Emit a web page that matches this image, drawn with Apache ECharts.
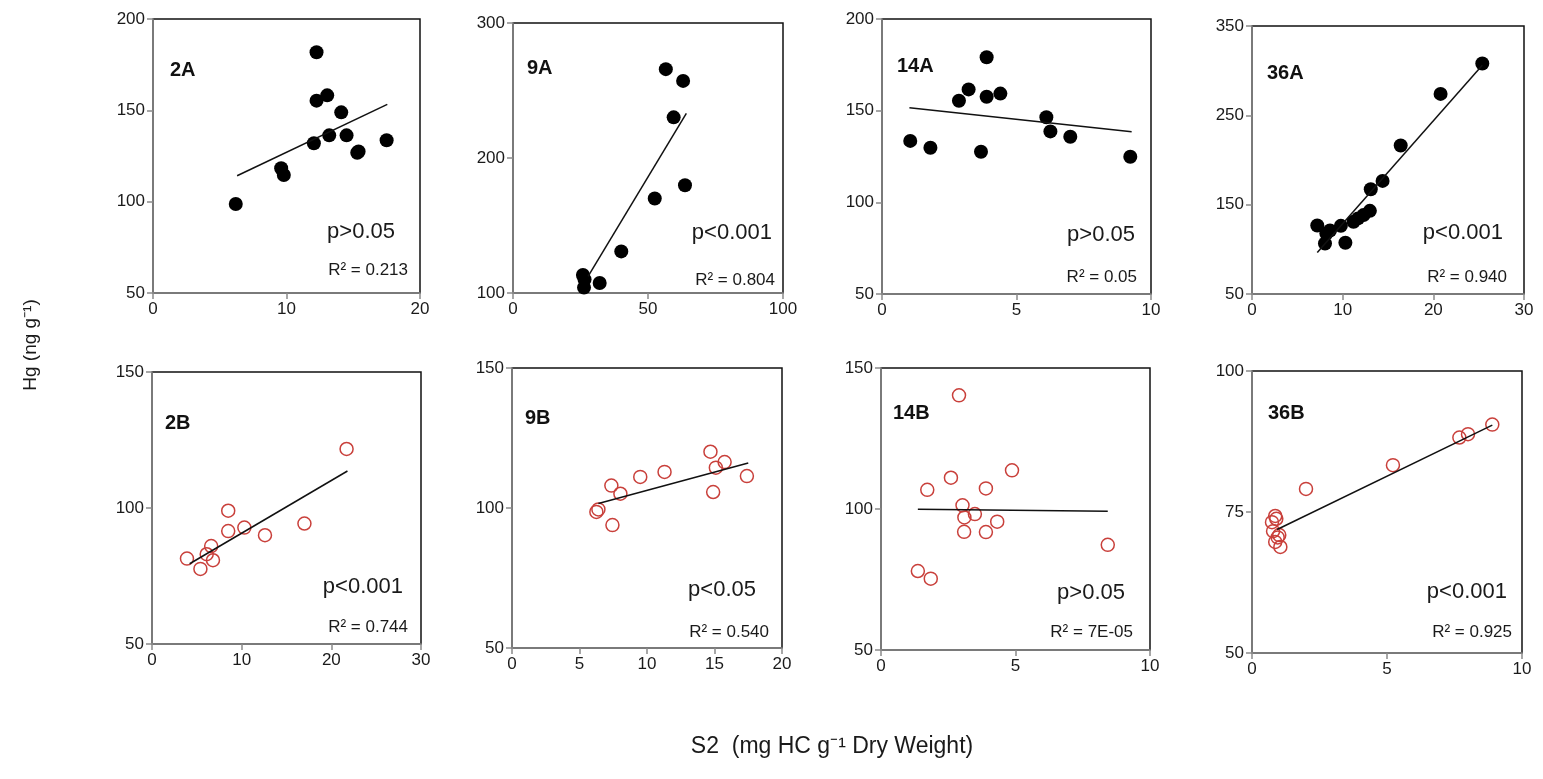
<!DOCTYPE html>
<html>
<head>
<meta charset="utf-8">
<script src="https://cdn.jsdelivr.net/npm/echarts@6/dist/echarts.min.js"></script>
<style>
  html, body { margin: 0; padding: 0; background: #fff; }
  #chart { width: 1543px; height: 779px; }
</style>
</head>
<body>
<div id="chart"></div>
<script>
// ---- data (S2 on x, Hg on y) ----
const x2A = [6.2, 9.6, 9.8, 12.05, 12.25, 12.25, 13.05, 13.2, 14.1, 14.5, 15.3, 15.4, 17.5]
const y2A = [98.7, 118.3, 114.6, 132, 181.8, 155.3, 158.2, 136.3, 148.9, 136.3, 126.8, 127.5, 133.6]
const fit2A = [6.3, 114.2, 17.55, 153.3]

const x9A = [56.6, 63, 59.5, 63.7, 52.5, 40.1, 32.1, 25.9, 26.3, 26.5]
const y9A = [265.8, 257.1, 230.1, 179.8, 170, 130.8, 107.4, 113.3, 104, 110]
const fit9A = [27.8, 112.3, 64.2, 233]

const x14A = [1.05, 1.8, 2.86, 3.22, 3.89, 3.89, 4.4, 3.68, 6.11, 6.26, 7.0, 9.23]
const y14A = [133.5, 129.8, 155.4, 161.6, 179.1, 157.6, 159.3, 127.6, 146.4, 138.7, 135.8, 124.9]
const fit14A = [1.02, 151.6, 9.28, 138.5]

const x36A = [25.4, 20.8, 16.4, 14.4, 13.1, 13.0, 12.3, 11.7, 11.2, 9.8, 10.3, 7.2, 8.2, 8.05, 8.6]
const y36A = [308, 274, 216.2, 176.6, 167.3, 143.1, 138.3, 134.6, 130.8, 126.3, 107.3, 126.7, 117.8, 106.6, 121]
const fit36A = [7.2, 96.5, 25.4, 306]

const x2B = [21.7, 8.5, 8.5, 10.3, 12.6, 17.0, 6.6, 6.1, 6.8, 3.9, 5.4]
const y2B = [121.7, 99, 91.5, 92.8, 90, 94.3, 86, 83, 80.8, 81.4, 77.6]
const fit2B = [4.2, 79.5, 21.8, 113.6]

const x9B = [6.25, 6.4, 7.36, 8.03, 7.44, 9.5, 11.3, 14.7, 15.1, 15.75, 14.9, 17.4]
const y9B = [98.6, 99.5, 108, 105.1, 93.9, 111.1, 112.9, 120.1, 114.4, 116.4, 105.7, 111.4]
const fit9B = [6.4, 101.6, 17.5, 116.1]

const x14B = [2.9, 4.87, 2.6, 1.72, 3.9, 3.03, 3.1, 3.49, 3.09, 3.9, 4.32, 8.43, 1.37, 1.85]
const y14B = [140.3, 113.7, 111.1, 106.8, 107.3, 101.3, 97, 98.2, 91.9, 91.8, 95.5, 87.3, 78, 75.3]
const fit14B = [1.37, 99.9, 8.43, 99.2]

const x36B = [8.9, 8.0, 7.68, 5.22, 2.0, 0.86, 0.74, 0.78, 1.01, 0.86, 1.05, 0.9, 0.95]
const y36B = [90.5, 88.8, 88.2, 83.3, 79.1, 74.3, 73.2, 71.6, 70.9, 69.7, 68.8, 73.8, 70.5]
const fit36B = [0.93, 71.9, 8.9, 90.4]

// tick labels
const xTicks = {
  '2A': [0, 10, 20], '9A': [0, 50, 100], '14A': [0, 5, 10], '36A': [0, 10, 20, 30],
  '2B': [0, 10, 20, 30], '9B': [0, 5, 10, 15, 20], '14B': [0, 5, 10], '36B': [0, 5, 10],
}
const yTicks = {
  '2A': [50, 100, 150, 200], '9A': [100, 200, 300], '14A': [50, 100, 150, 200], '36A': [50, 150, 250, 350],
  '2B': [50, 100, 150], '9B': [50, 100, 150], '14B': [50, 100, 150], '36B': [50, 75, 100],
}
const pText = ['p>0.05', 'p<0.001', 'p>0.05', 'p<0.001', 'p<0.001', 'p<0.05', 'p>0.05', 'p<0.001']
const r2Text = ['R² = 0.213', 'R² = 0.804', 'R² = 0.05', 'R² = 0.940', 'R² = 0.744', 'R² = 0.540', 'R² = 7E-05', 'R² = 0.925']

const names = ['2A', '9A', '14A', '36A', '2B', '9B', '14B', '36B']
const xs = [x2A, x9A, x14A, x36A, x2B, x9B, x14B, x36B]
const ys = [y2A, y9A, y14A, y36A, y2B, y9B, y14B, y36B]
const fits = [fit2A, fit9A, fit14A, fit36A, fit2B, fit9B, fit14B, fit36B]

// plot boxes [left, top, right, bottom] in px, and text anchors
const boxes = [
  [153, 19, 420, 293], [513, 23, 783, 293], [882, 19, 1151, 294], [1252, 26, 1524, 294],
  [152, 372, 421, 644], [512, 368, 782, 648], [881, 368, 1150, 650], [1252, 371, 1522, 653],
]
// [titleX, titleY, pRight, pY, r2Right, r2Y]
const textPos = [
  [170, 70, 395, 232, 408, 270], [527, 68, 772, 233, 775, 280], [897, 66, 1135, 235, 1137, 277], [1267, 73, 1503, 233, 1507, 277],
  [165, 423, 403, 587, 408, 627], [525, 418, 756, 590, 769, 632], [893, 413, 1125, 593, 1133, 632], [1268, 413, 1507, 592, 1512, 632],
]

const FONT = "'Liberation Sans', Arial, sans-serif"
const chart = echarts.init(document.getElementById('chart'))

const grid = [], xAxis = [], yAxis = [], series = [], graphic = []

names.forEach((name, i) => {
  const b = boxes[i]
  grid.push({
    left: b[0], top: b[1], width: b[2] - b[0], height: b[3] - b[1],
    show: true, borderColor: '#111', borderWidth: 1.5, backgroundColor: '#fff',
  })
  const xt = xTicks[name], yt = yTicks[name]
  const axisCommon = {
    gridIndex: i,
    splitLine: { show: false },
    axisLine: { show: true, onZero: false, lineStyle: { color: '#8a8a8a', width: 1.5 } },
    axisTick: { show: true, inside: false, length: 6, lineStyle: { color: '#8a8a8a', width: 1.5 } },
    axisLabel: { color: '#1a1a1a', fontSize: 17, fontFamily: FONT, margin: 8 },
  }
  xAxis.push(Object.assign({}, axisCommon, {
    type: 'value', min: xt[0], max: xt[xt.length - 1], interval: xt[1] - xt[0],
  }))
  yAxis.push(Object.assign({}, axisCommon, {
    type: 'value', min: yt[0], max: yt[yt.length - 1], interval: yt[1] - yt[0],
  }))

  const isA = name.endsWith('A')
  const pts = xs[i].map((x, k) => [x, ys[i][k]])
  series.push({
    type: 'scatter', xAxisIndex: i, yAxisIndex: i, data: pts,
    symbol: 'circle',
    symbolSize: isA ? 14 : 13,
    itemStyle: isA
      ? { color: '#000', opacity: 1 }
      : { color: 'rgba(0,0,0,0)', borderColor: '#c9403b', borderWidth: 1.5, opacity: 1 },
    z: 2,
  })
  const f = fits[i]
  series.push({
    type: 'line', xAxisIndex: i, yAxisIndex: i,
    data: [[f[0], f[1]], [f[2], f[3]]],
    symbol: 'none', lineStyle: { color: '#111', width: 1.5 }, z: 3,
  })

  const t = textPos[i]
  graphic.push(
    { type: 'text', x: t[0], y: t[1], style: { text: name, font: 'bold 20px ' + FONT, fill: '#111', verticalAlign: 'middle' } },
    { type: 'text', x: t[2], y: t[3], style: { text: pText[i], font: '22px ' + FONT, fill: '#1a1a1a', align: 'right', verticalAlign: 'middle' } },
    { type: 'text', x: t[4], y: t[5], style: { text: r2Text[i], font: '17px ' + FONT, fill: '#1a1a1a', align: 'right', verticalAlign: 'middle' } },
  )
})

// shared axis titles
graphic.push(
  { type: 'text', x: 31, y: 345, rotation: Math.PI / 2,
    style: { text: 'Hg (ng g⁻¹)', font: '19px ' + FONT, fill: '#1a1a1a', align: 'center', verticalAlign: 'middle' } },
  { type: 'text', x: 832, y: 747,
    style: { text: 'S2  (mg HC g⁻¹ Dry Weight)', font: '23px ' + FONT, fill: '#1a1a1a', align: 'center', verticalAlign: 'middle' } },
)

chart.setOption({
  animation: false,
  backgroundColor: '#fff',
  grid, xAxis, yAxis, series, graphic,
})
</script>
</body>
</html>
